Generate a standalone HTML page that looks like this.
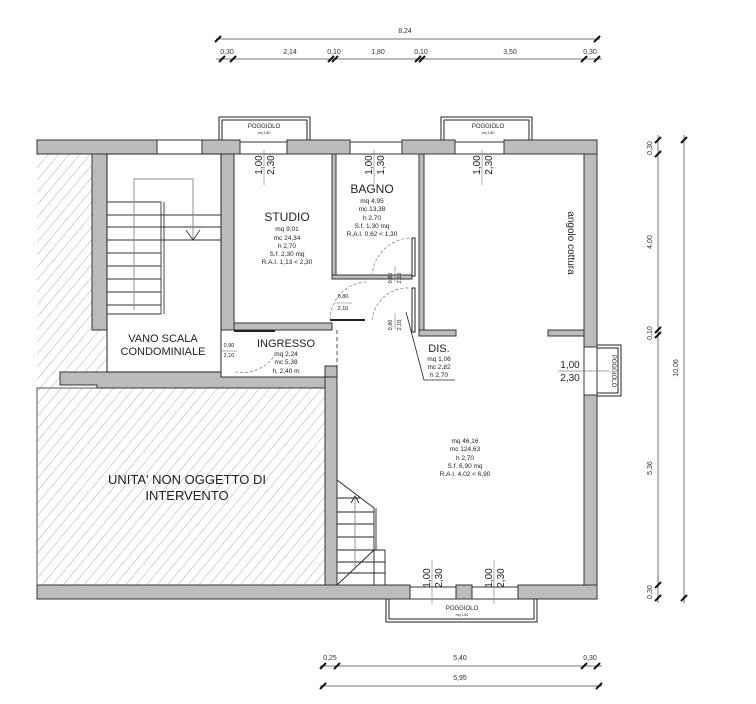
<!DOCTYPE html>
<html><head><meta charset="utf-8"><style>
html,body{margin:0;padding:0;background:#fff;}
svg{display:block;font-family:"Liberation Sans",sans-serif;}
</style></head><body>
<svg width="756" height="704" viewBox="0 0 756 704" xmlns="http://www.w3.org/2000/svg">
<defs>
<pattern id="h" width="8" height="8" patternUnits="userSpaceOnUse" patternTransform="rotate(40)">
<line x1="0" y1="0" x2="0" y2="8" stroke="#999" stroke-width="0.8"/>
</pattern>
</defs>
<polygon points="37,140 92,154 92,330 107,330 107,372 60,372 60,388 37,388" fill="url(#h)"/>
<rect x="37" y="388" width="288" height="197" fill="url(#h)"/>
<rect x="37" y="388" width="288" height="197" fill="none" stroke="#555" stroke-width="1"/>
<g fill="#bcbcbc" stroke="#333" stroke-width="1">
<rect x="37" y="140" width="120" height="14"/>
<rect x="202" y="140" width="38" height="14"/>
<rect x="287" y="140" width="63" height="14"/>
<rect x="402" y="140" width="53" height="14"/>
<rect x="504" y="140" width="93" height="14"/>
<rect x="92" y="154" width="15" height="176"/>
<rect x="221" y="154" width="13" height="176"/>
<rect x="234" y="323" width="98" height="7"/>
<rect x="332" y="154" width="4" height="123"/>
<rect x="332" y="275" width="80" height="4"/>
<rect x="419" y="154" width="5" height="176"/>
<rect x="419" y="330" width="37" height="6"/>
<rect x="548" y="330" width="36" height="6"/>
<rect x="584" y="154" width="13" height="193"/>
<rect x="584" y="395" width="13" height="190"/>
<rect x="37" y="585" width="373" height="14"/>
<rect x="456" y="585" width="16" height="14"/>
<rect x="518" y="585" width="79" height="14"/>
<polygon points="60,372 221,372 221,377 325,377 325,366 337,366 337,388 97,388 97,385 60,385"/>
<rect x="325" y="377" width="12" height="208"/>
</g>
<rect x="412" y="238" width="3" height="38" fill="#fff" stroke="#222"/>
<rect x="412" y="288" width="3" height="44" fill="#fff" stroke="#222"/>
<line x1="330" y1="320" x2="365" y2="320" stroke="#222" stroke-width="2"/>
<line x1="234" y1="331" x2="275" y2="331" stroke="#222" stroke-width="2"/>
<g fill="none" stroke="#888" stroke-dasharray="3,2" stroke-width="0.8">
<path d="M330,320 A38,38 0 0 1 368,282"/>
<path d="M372,276 A40,40 0 0 1 412,238"/>
<path d="M372,320 A36,36 0 0 1 410,288"/>
<path d="M235,372 A40,40 0 0 0 275,355"/>
<line x1="337" y1="330" x2="337" y2="372" stroke="#222" stroke-dasharray="4,3"/>
</g>
<g fill="#fff" stroke="#333">
<rect x="157" y="140" width="45" height="14"/>
<rect x="240" y="142" width="47" height="12"/>
<rect x="350" y="142" width="52" height="12"/>
<rect x="455" y="142" width="49" height="12"/>
<rect x="584" y="347" width="13" height="48"/>
<rect x="410" y="587" width="46" height="12"/>
<rect x="472" y="587" width="46" height="12"/>
</g>
<g fill="none" stroke="#222">
<path d="M219,140 V117 H310 V140"/><path d="M222,140 V120 H307 V140"/>
<path d="M441,140 V117 H532 V140"/><path d="M444,140 V120 H529 V140"/>
<path d="M597,345 H621 V396 H597"/><path d="M597,348 H618 V393 H597"/>
<path d="M386,599 V622 H537 V599"/><path d="M389,599 V619 H534 V599"/>
</g>
<g fill="none" stroke="#222">
<rect x="107" y="154" width="114" height="218"/>
</g>
<g stroke="#333" fill="none" stroke-width="0.9">
<line x1="107" y1="202" x2="161" y2="202"/><line x1="107" y1="215" x2="221" y2="215"/>
<line x1="107" y1="227" x2="221" y2="227"/><line x1="107" y1="240" x2="221" y2="240"/>
<line x1="107" y1="253" x2="161" y2="253"/><line x1="107" y1="266" x2="161" y2="266"/>
<line x1="107" y1="279" x2="161" y2="279"/><line x1="107" y1="292" x2="161" y2="292"/>
<line x1="107" y1="305" x2="161" y2="305"/><line x1="107" y1="314" x2="161" y2="314"/>
<line x1="161" y1="202" x2="161" y2="314"/><line x1="164" y1="202" x2="164" y2="314"/>
<path d="M134,310 V179 H193 V240" stroke="#888"/>
<path d="M186,230 L193,240 L200,230"/>
</g>
<g stroke="#222" fill="none" stroke-width="0.9">
<path d="M337,480 L374,508 V550"/><line x1="376" y1="508" x2="376" y2="550"/>
<line x1="337" y1="498" x2="360" y2="498"/><line x1="337" y1="512" x2="374" y2="512"/>
<line x1="337" y1="524" x2="374" y2="524"/><line x1="337" y1="537" x2="374" y2="537"/>
<line x1="337" y1="550" x2="385" y2="550"/><path d="M374,550 V585 M385,550 V585"/>
<line x1="337" y1="562" x2="385" y2="562"/><line x1="337" y1="573" x2="385" y2="573"/>
<line x1="337" y1="585" x2="374" y2="550"/>
<line x1="355" y1="568" x2="355" y2="496" stroke="#888"/>
<path d="M351,503 L355,496 L359,503"/>
</g>
<path d="M406,312 L424,380 H455" fill="none" stroke="#222" stroke-width="0.8"/>
<g font-size="10" fill="#222" text-anchor="middle">
<g transform="translate(262,165) rotate(-90)"><text x="0" y="0">1,00</text><text x="0" y="12">2,30</text></g>
<g transform="translate(372,165) rotate(-90)"><text x="0" y="0">1,00</text><text x="0" y="12">1,30</text></g>
<g transform="translate(480,165) rotate(-90)"><text x="0" y="0">1,00</text><text x="0" y="12">2,30</text></g>
<g transform="translate(430,578) rotate(-90)"><text x="0" y="0">1,00</text><text x="0" y="12">2,30</text></g>
<g transform="translate(492,578) rotate(-90)"><text x="0" y="0">1,00</text><text x="0" y="12">2,30</text></g>
<text x="570" y="368">1,00</text><text x="570" y="381">2,30</text>
</g>
<g stroke="#888" stroke-width="0.7">
<line x1="264" y1="150" x2="264" y2="185"/><line x1="374" y1="150" x2="374" y2="185"/>
<line x1="482" y1="150" x2="482" y2="185"/><line x1="432" y1="560" x2="432" y2="604"/>
<line x1="494" y1="560" x2="494" y2="604"/><line x1="558" y1="371" x2="610" y2="371"/>
</g>
<g fill="#222" text-anchor="middle">
<text x="287" y="221" font-size="12">STUDIO</text>
<g font-size="6.5"><text x="287" y="231">mq 9,01</text><text x="287" y="240">mc 24,34</text><text x="287" y="248">h 2,70</text><text x="287" y="256">S.f. 2,30 mq</text><text x="287" y="264">R.A.I. 1,13 &lt; 2,30</text></g>
<text x="372" y="193" font-size="12">BAGNO</text>
<g font-size="6.5"><text x="372" y="203">mq 4,95</text><text x="372" y="211">mc 13,38</text><text x="372" y="220">h 2,70</text><text x="372" y="228">S.f. 1,30 mq</text><text x="372" y="236">R.A.I. 0,62 &lt; 1,30</text></g>
<text x="163" y="342" font-size="11">VANO SCALA</text><text x="163" y="355" font-size="11">CONDOMINIALE</text>
<text x="286" y="347" font-size="11">INGRESSO</text>
<g font-size="6.5"><text x="286" y="356">mq 2,24</text><text x="286" y="364">mc 5,38</text><text x="286" y="373">h, 2,40 m</text></g>
<text x="439" y="352" font-size="11">DIS.</text>
<g font-size="6.5"><text x="439" y="361">mq 1,06</text><text x="439" y="369">mc 2,82</text><text x="439" y="377">h 2,70</text></g>
<g font-size="6.5"><text x="465" y="443">mq 46,16</text><text x="465" y="451">mc 124,63</text><text x="465" y="460">h 2,70</text><text x="465" y="468">S.f. 6,90 mq</text><text x="465" y="476">R.A.I. 4,02 &lt; 6,90</text></g>
<text x="187" y="484" font-size="13">UNITA' NON OGGETTO DI</text>
<text x="187" y="500" font-size="13">INTERVENTO</text>
<text transform="translate(568,243) rotate(90)" font-size="10">angolo cottura</text>
<g font-size="6"><text x="264" y="128">POGGIOLO</text><text x="488" y="128">POGGIOLO</text><text x="462" y="610">POGGIOLO</text></g>
<g font-size="3.5"><text x="264" y="134">mq 1,80</text><text x="488" y="134">mq 1,80</text><text x="462" y="616">mq 1,60</text></g>
<text transform="translate(612,371) rotate(90)" font-size="6">POGGIOLO</text>
<g font-size="5.5">
<text x="229" y="347">0,90</text><text x="229" y="357">2,10</text>
<text x="343" y="298">0,80</text><text x="343" y="310">2,10</text>
<text transform="translate(392,278) rotate(-90)">0,80</text><text transform="translate(401,278) rotate(-90)">2,10</text>
<text transform="translate(392,325) rotate(-90)">0,80</text><text transform="translate(401,325) rotate(-90)">2,10</text>
</g>
</g>
<g stroke="#777" stroke-width="0.6"><line x1="221" y1="351" x2="237" y2="351"/><line x1="335" y1="303" x2="352" y2="303"/><line x1="395" y1="266" x2="395" y2="282"/><line x1="395" y1="313" x2="395" y2="329"/></g>
<g stroke="#777" stroke-width="1" fill="none">
<line x1="216" y1="39" x2="600" y2="39"/><line x1="216" y1="59" x2="602" y2="59"/>
<line x1="320" y1="666" x2="602" y2="666"/><line x1="320" y1="686" x2="602" y2="686"/>
<line x1="658" y1="135" x2="658" y2="603"/><line x1="684" y1="135" x2="684" y2="603"/>
</g>
<g stroke="#111" stroke-width="2">
<path d="M215,42 l6,-6 M594,42 l6,-6"/>
<path d="M219,62 l6,-6 M230,62 l6,-6 M328,62 l6,-6 M332,62 l6,-6 M415,62 l6,-6 M419,62 l6,-6 M581,62 l6,-6 M594,62 l6,-6"/>
<path d="M320,669 l6,-6 M334,669 l6,-6 M581,669 l6,-6 M594,669 l6,-6"/>
<path d="M320,689 l6,-6 M596,689 l6,-6"/>
<path d="M655,143 l6,-6 M655,157 l6,-6 M655,333 l6,-6 M655,338 l6,-6 M655,588 l6,-6 M655,601 l6,-6"/>
<path d="M681,143 l6,-6 M681,601 l6,-6"/>
</g>
<g font-size="7" fill="#333" text-anchor="middle">
<text x="405" y="33">8,24</text>
<text x="227" y="54">0,30</text><text x="290" y="54">2,14</text><text x="334" y="54">0,10</text><text x="378" y="54">1,80</text><text x="421" y="54">0,10</text><text x="510" y="54">3,50</text><text x="590" y="54">0,30</text>
<text x="330" y="660">0,25</text><text x="460" y="660">5,40</text><text x="590" y="660">0,30</text><text x="460" y="680">5,95</text>
<text transform="translate(652,148) rotate(-90)">0,30</text>
<text transform="translate(652,242) rotate(-90)">4,00</text>
<text transform="translate(652,333) rotate(-90)">0,10</text>
<text transform="translate(652,468) rotate(-90)">5,36</text>
<text transform="translate(652,592) rotate(-90)">0,30</text>
<text transform="translate(678,368) rotate(-90)">10,06</text>
</g>
</svg>
</body></html>
